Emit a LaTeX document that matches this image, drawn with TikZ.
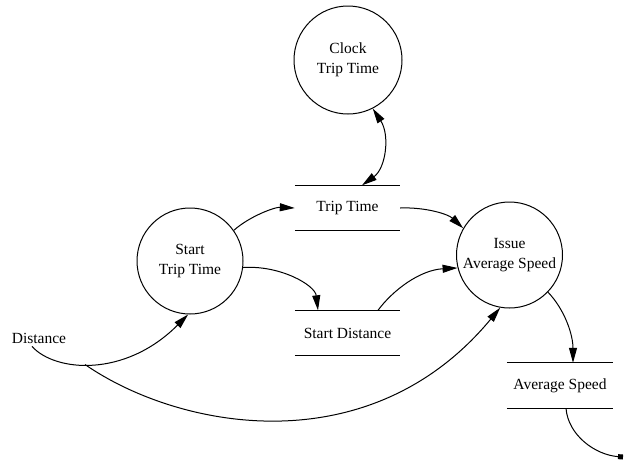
\documentclass[tikz,border=0pt]{standalone}
\usepackage{fontspec}
\setmainfont{Liberation Serif}
\usetikzlibrary{arrows.meta}
\begin{document}
\begin{tikzpicture}[x=1pt,y=-1pt,
  font=\fontsize{15.5}{20.5}\selectfont,
  proc/.style={draw,circle,line width=1pt,inner sep=0pt,align=center},
  store/.style={minimum width=105pt,minimum height=45pt,inner sep=0pt},
  sline/.style={line width=1pt},
  flow/.style={line width=1pt,-{Triangle[length=15pt,width=8pt]}},
  biflow/.style={line width=1pt,{Triangle[length=15pt,width=8pt]}-{Triangle[length=15pt,width=8pt]}}]
\useasboundingbox (0,0) rectangle (626,461);
% processes
\node[proc,minimum size=108pt] (clock) at (348,60) {Clock\\Trip Time};
\node[proc,minimum size=106pt] (start) at (190,261) {Start\\Trip Time};
\node[proc,minimum size=106pt] (issue) at (509.5,255) {Issue\\Average Speed};
% stores
\node[store] (tt) at (347.5,208) {Trip Time};
\node[store] (sd) at (347.5,333) {Start Distance};
\node[store,minimum width=106pt] (avg) at (560,385.5) {Average Speed};
\foreach \s in {tt,sd,avg}{
  \draw[sline] (\s.north west) -- (\s.north east);
  \draw[sline] (\s.south west) -- (\s.south east);
}
% external
\node[inner sep=3pt] (dist) at (39,338) {Distance};
\coordinate (out) at (623,457);
% flows
\draw[biflow] (clock.-63) .. controls (390,135) and (386,168) .. ([xshift=14.5pt]tt.north);
\draw[flow] (start.35) .. controls (250,216) and (275,207) .. (tt.west);
\draw[flow] (start.-7.5) .. controls (280,265) and (315,285) .. ([xshift=-29.5pt]sd.north);
\draw[flow] (tt.east) .. controls (425,207) and (448,214) .. (issue.150);
\draw[flow] ([xshift=30.5pt]sd.north) .. controls (393,290) and (420,270) .. (issue.-166);
\draw[flow] ([xshift=-7pt]dist.south) .. controls (55,372) and (125,378) .. coordinate[pos=0.44] (br) (start.-92);
\draw[flow] (br) .. controls (180,430) and (370,465) .. (issue.-100);
\draw[flow] (issue.-44.6) .. controls (565,310) and (573,335) .. ([xshift=13pt]avg.north);
\draw[line width=1pt,-{Square[length=5pt,width=5pt]}] ([xshift=6pt]avg.south) .. controls (568,435) and (595,455) .. (out);
\end{tikzpicture}
\end{document}
